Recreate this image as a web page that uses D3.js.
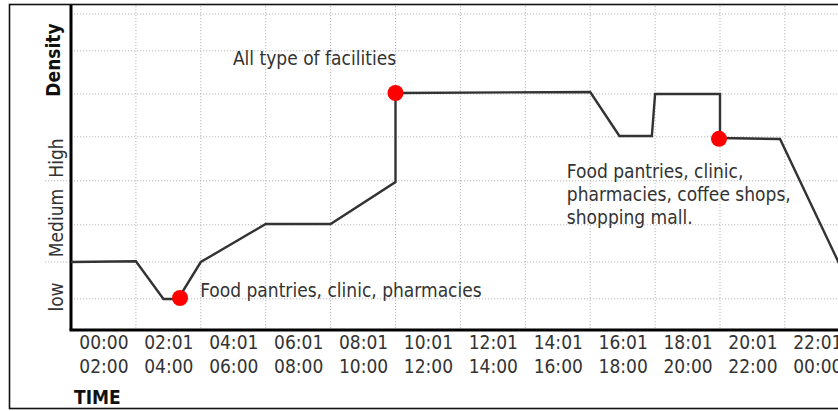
<!DOCTYPE html>
<html><head><meta charset="utf-8">
<script src="https://cdn.jsdelivr.net/npm/d3@7"></script>
<style>body{margin:0;background:#fff} svg{display:block}</style>
</head><body><svg id="c" width="838" height="411"></svg>
<script>
// ---- data ----
const slotStart = ["00:00","02:01","04:01","06:01","08:01","10:01","12:01","14:01","16:01","18:01","20:01","22:01"];
const slotEnd   = ["02:00","04:00","06:00","08:00","10:00","12:00","14:00","16:00","18:00","20:00","22:00","00:00"];
const slotCenter = [1,3,5,7,9,11,13,15,17,19,21,23];
const lineHours  = [0, 2.0, 2.85, 3.3, 4.0, 6.0, 8.0, 10.0, 10.0, 16.0, 16.9, 17.9, 18.0, 20.0, 20.0, 21.85, 24.0];
const lineLevels = [1.7, 1.72, 0.775, 0.775, 1.7, 2.65, 2.65, 3.7, 5.925, 5.95, 4.85, 4.85, 5.9, 5.9, 4.8, 4.775, 1.1];
const dotHours  = [3.36, 10.0, 19.97];
const dotLevels = [0.8, 5.925, 4.78];
const gridHours  = [2,4,6,8,10,12,14,16,18,20,22];
const gridLevels = [0.78, 1.7, 2.63, 3.73, 4.83, 5.9, 6.98, 7.9];
const levelSeparators = [1.7, 3.73];
const levelNames = ["low","Medium","High"];
const levelNamePos = [0.825, 2.675, 4.3];
const yTitle = "Density", yTitlePos = 6.75;
const xTitle = "TIME";
const notes = [
  {lines:["All type of facilities"], h:4.99, v:6.625},
  {lines:["Food pantries, clinic, pharmacies"], h:3.98, v:0.825},
  {lines:["Food pantries, clinic,","pharmacies, coffee shops,","shopping mall."], h:15.28, v:3.8}
];

// ---- layout ----
const svg = d3.select("#c");
const x = d3.scaleLinear().domain([0,20]).range([71,720]);
const y = d3.scaleLinear().domain([0,8]).range([330,10]);
const FONT = "'DejaVu Sans Condensed','DejaVu Sans',sans-serif";
const ink = "#333";

// frame
svg.append("rect").attr("x",9.5).attr("y",4.5).attr("width",840).attr("height",404)
  .attr("fill","none").attr("stroke","#111").attr("stroke-width",1.6);

// grid
const g = svg.append("g").attr("stroke","#b8b8b8").attr("stroke-width",1).attr("stroke-dasharray","1.2,1.8");
g.selectAll("line.v").data(gridHours).join("line").attr("class","v")
  .attr("x1",d=>x(d)).attr("x2",d=>x(d)).attr("y1",6).attr("y2",y(0));
g.selectAll("line.h").data(gridLevels).join("line").attr("class","h")
  .attr("x1",x(0)).attr("x2",838).attr("y1",d=>y(d)).attr("y2",d=>y(d));
g.selectAll("line.s").data(levelSeparators).join("line").attr("class","s")
  .attr("x1",45).attr("x2",x(0)).attr("y1",d=>y(d)).attr("y2",d=>y(d));

// axes
const xAxis = svg.append("g").attr("transform",`translate(0,${y(0)})`)
  .call(d3.axisBottom(x).tickValues(slotCenter).tickSize(0).tickFormat(""));
xAxis.select(".domain").remove();
xAxis.selectAll(".tick text").remove();
xAxis.selectAll(".tick").each(function(d,i){
  const t = d3.select(this).append("text").attr("fill",ink).attr("font-family",FONT)
    .attr("font-size",19).attr("text-anchor","middle");
  t.append("tspan").attr("x",0).attr("y",19).text(slotStart[i]);
  t.append("tspan").attr("x",0).attr("y",43).text(slotEnd[i]);
});
svg.append("line").attr("x1",x(0)-1.5).attr("x2",838).attr("y1",y(0)).attr("y2",y(0))
  .attr("stroke","#000").attr("stroke-width",3);
svg.append("line").attr("x1",x(0)).attr("x2",x(0)).attr("y1",5).attr("y2",y(0))
  .attr("stroke","#000").attr("stroke-width",3);

// y labels (rotated)
levelNames.forEach((n,i)=>{
  svg.append("text").attr("transform",`translate(63,${y(levelNamePos[i])}) rotate(-90)`)
    .attr("text-anchor","middle").attr("font-family",FONT).attr("font-size",19).attr("fill",ink).text(n);
});
svg.append("text").attr("transform",`translate(60,${y(yTitlePos)}) rotate(-90)`)
  .attr("text-anchor","middle").attr("font-family",FONT).attr("font-size",19).attr("font-weight","bold").attr("fill","#111").text(yTitle);
svg.append("text").attr("x",74).attr("y",404).attr("font-family",FONT).attr("font-size",19)
  .attr("font-weight","bold").attr("fill","#111").text(xTitle);

// line
const pts = lineHours.map((h,i)=>[h,lineLevels[i]]);
svg.append("path").datum(pts)
  .attr("d",d3.line().x(d=>x(d[0])).y(d=>y(d[1])))
  .attr("fill","none").attr("stroke","#333").attr("stroke-width",2.4).attr("stroke-linejoin","miter");

// dots
svg.selectAll("circle.dot").data(dotHours.map((h,i)=>[h,dotLevels[i]])).join("circle")
  .attr("class","dot").attr("cx",d=>x(d[0])).attr("cy",d=>y(d[1])).attr("r",8).attr("fill","#ff0000");

// notes
notes.forEach(nt=>{
  const t = svg.append("text").attr("font-family",FONT).attr("font-size",19).attr("fill",ink);
  nt.lines.forEach((l,k)=>t.append("tspan").attr("x",x(nt.h)).attr("y",y(nt.v)+k*23).text(l));
});
</script></body></html>
